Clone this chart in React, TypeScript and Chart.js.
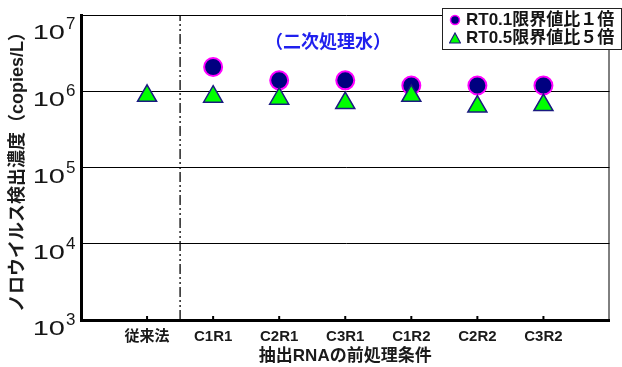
import React, { useEffect, useRef } from 'react';
import { Chart, registerables } from 'chart.js';

Chart.register(...registerables);

const categories = ['従来法', 'C1R1', 'C2R1', 'C3R1', 'C1R2', 'C2R2', 'C3R2'];
const rt01Values = [null, 2.08e6, 1.39e6, 1.39e6, 1.19e6, 1.19e6, 1.19e6];
const rt05Values = [0.87e6, 0.85e6, 0.8e6, 0.7e6, 0.87e6, 0.63e6, 0.66e6];
const yTickExponents = [3, 4, 5, 6, 7];
const yMin = 1e3;
const yMax = 1e7;
const dividerPosition = 1.5;

const rt01Label = 'RT0.1限界値比１倍';
const rt05Label = 'RT0.5限界値比５倍';
const chartSubtitle = '（二次処理水）';
const yTitle = 'ノロウイルス検出濃度（copies/L）';
const xTitle = '抽出RNAの前処理条件';

const FONT = '"Liberation Sans", Arial, "Noto Sans CJK JP", sans-serif';

export default function App() {
  const ref = useRef<HTMLCanvasElement>(null);

  useEffect(() => {
    const canvas = ref.current;
    if (!canvas) return;

    const customAxis = {
      id: 'customAxis',
      afterDraw(chart: any) {
        const { ctx, chartArea, scales } = chart;
        const ys = scales.y;
        const xs = scales.x;
        ctx.save();
        // right frame
        ctx.strokeStyle = '#000';
        ctx.lineWidth = 1;
        ctx.beginPath();
        ctx.moveTo(chartArea.right - 0.5, chartArea.top);
        ctx.lineTo(chartArea.right - 0.5, chartArea.bottom);
        ctx.stroke();
        // inner tick marks on x axis
        ctx.fillStyle = '#000';
        categories.forEach((_, i) => {
          const px = xs.getPixelForValue(i + 1);
          ctx.fillRect(px - 1, chartArea.bottom - 4, 2, 3);
        });
        // y tick labels 10^n
        ctx.fillStyle = '#151515';
        yTickExponents.forEach((e) => {
          const py = ys.getPixelForValue(10 ** e);
          const base = e === yTickExponents[yTickExponents.length - 1] ? py + 24 : py + 15;
          ctx.font = `20px ${FONT}`;
          ctx.textAlign = 'right';
          ctx.textBaseline = 'alphabetic';
          ctx.save();
          ctx.translate(65, base);
          ctx.scale(1.45, 1);
          ctx.fillText('10', 0, 0);
          ctx.restore();
          ctx.font = `17px ${FONT}`;
          ctx.textAlign = 'left';
          ctx.fillText(String(e), 66, base - 10);
        });
        ctx.restore();
      },
    };

    const chart = new Chart(canvas, {
      type: 'scatter',
      data: {
        datasets: [
          {
            label: rt05Label,
            data: rt05Values.map((v, i) => ({ x: i + 1, y: v })),
            pointStyle: 'triangle',
            pointRadius: 11,
            pointHoverRadius: 11,
            backgroundColor: '#00ff00',
            borderColor: '#1a1a80',
            borderWidth: 1.5,
            order: 1,
          },
          {
            label: rt01Label,
            data: rt01Values.map((v, i) => ({ x: i + 1, y: v })).filter((p) => p.y !== null) as any,
            pointStyle: 'circle',
            pointRadius: 9,
            pointHoverRadius: 9,
            backgroundColor: '#000080',
            borderColor: '#ff00ff',
            borderWidth: 2,
            order: 2,
          },
          {
            type: 'line',
            label: 'divider',
            data: [
              { x: dividerPosition, y: yMin },
              { x: dividerPosition, y: yMax },
            ],
            showLine: true,
            pointRadius: 0,
            borderColor: '#000',
            borderWidth: 1.3,
            borderDash: [10, 3, 2, 3, 2, 3],
            order: 3,
          } as any,
        ],
      },
      options: {
        animation: false,
        responsive: false,
        devicePixelRatio: 1,
        layout: { padding: { left: 0, top: 15, right: 4, bottom: 0 } },
        plugins: {
          legend: { display: false },
          tooltip: { enabled: false },
        },
        scales: {
          x: {
            type: 'linear',
            min: 0,
            max: categories.length + 1,
            afterBuildTicks: (scale: any) => {
              scale.ticks = categories.map((_, i) => ({ value: i + 1 }));
            },
            afterFit: (scale: any) => {
              scale.height = 47;
            },
            grid: { display: false, drawTicks: false },
            border: { display: true, color: '#000', width: 3 },
            ticks: {
              autoSkip: false,
              maxRotation: 0,
              padding: 8,
              color: '#1a1a1a',
              font: { family: FONT, size: 15, weight: 'bold' },
              callback: (value: any) => categories[Number(value) - 1] ?? '',
            },
            title: {
              display: true,
              text: xTitle,
              color: '#1a1a1a',
              font: { family: FONT, size: 17, weight: 'bold' },
              padding: { top: 0, bottom: 0 },
            },
          },
          y: {
            type: 'logarithmic',
            min: yMin,
            max: yMax,
            afterBuildTicks: (scale: any) => {
              scale.ticks = yTickExponents.map((e) => ({ value: 10 ** e }));
            },
            afterFit: (scale: any) => {
              scale.width = 81;
            },
            grid: { color: '#000', lineWidth: 1, drawTicks: false },
            border: { display: true, color: '#000', width: 3 },
            ticks: { display: false },
            title: {
              display: true,
              text: yTitle,
              color: '#1a1a1a',
              font: { family: FONT, size: 18, weight: 'bold' },
              padding: { top: 7, bottom: 0 },
            },
          },
        },
      },
      plugins: [customAxis],
    });

    return () => chart.destroy();
  }, []);

  return (
    <div style={{ position: 'fixed', left: 0, top: 0, width: 622, height: 367, background: '#fff', fontFamily: FONT }}>
      <canvas ref={ref} width={622} height={367} style={{ width: 622, height: 367, display: 'block' }} />
      <div
        style={{
          position: 'absolute',
          left: 265,
          top: 32,
          font: `bold 18px ${FONT}`,
          lineHeight: '20px',
          color: '#2020ee',
          whiteSpace: 'nowrap',
        }}
      >
        {chartSubtitle}
      </div>
      <div
        style={{
          position: 'absolute',
          left: 442,
          top: 8,
          width: 180,
          height: 42,
          boxSizing: 'border-box',
          border: '1.5px solid #222',
          background: '#fff',
          font: `bold 17px ${FONT}`,
          color: '#151515',
          whiteSpace: 'nowrap',
        }}
      >
        <div style={{ position: 'absolute', left: 6, top: 2, height: 18, lineHeight: '18px', display: 'flex', alignItems: 'center' }}>
          <svg width={12} height={12} style={{ marginRight: 5 }}>
            <circle cx={6} cy={6} r={4.5} fill="#000080" stroke="#ff00ff" strokeWidth={1.5} />
          </svg>
          <span>{rt01Label}</span>
        </div>
        <div style={{ position: 'absolute', left: 6, top: 20, height: 18, lineHeight: '18px', display: 'flex', alignItems: 'center' }}>
          <svg width={12} height={12} style={{ marginRight: 5 }}>
            <polygon points="6,1 11.5,11 0.5,11" fill="#00ff00" stroke="#1a1a80" strokeWidth={1.2} />
          </svg>
          <span>{rt05Label}</span>
        </div>
      </div>
    </div>
  );
}
